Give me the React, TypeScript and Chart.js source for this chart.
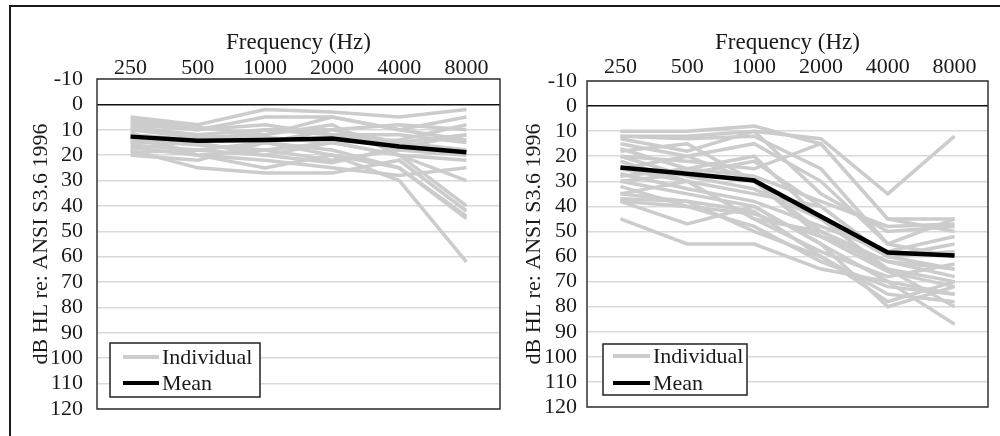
import React, { useEffect, useRef } from "react";
import { Chart, registerables } from "chart.js";

Chart.register(...registerables);

// ---------- data ----------
const FREQUENCIES = ["250", "500", "1000", "2000", "4000", "8000"];
const Y_MIN = -10;
const Y_MAX = 120;
const Y_STEP = 10;

const X_TITLE = "Frequency (Hz)";
const Y_TITLE = "dB HL re: ANSI S3.6 1996";
const LEGEND_INDIVIDUAL = "Individual";
const LEGEND_MEAN = "Mean";

// Left panel: individual thresholds (dB HL) at each frequency
const LEFT_INDIVIDUALS: number[][] = [
  [5, 8, 2, 3, 5, 2],
  [8, 10, 5, 5, 10, 5],
  [10, 12, 15, 10, 8, 10],
  [12, 15, 10, 12, 15, 12],
  [15, 15, 20, 15, 20, 30],
  [18, 25, 27, 27, 22, 42],
  [20, 22, 15, 20, 30, 62],
  [10, 13, 12, 8, 20, 40],
  [13, 20, 25, 20, 25, 45],
  [7, 10, 8, 12, 12, 15],
  [16, 18, 15, 18, 25, 44],
  [14, 16, 18, 22, 18, 20],
  [12, 14, 13, 15, 14, 8],
  [17, 20, 22, 25, 28, 25],
  [9, 12, 10, 10, 15, 18],
  [11, 20, 18, 15, 20, 22],
  [19, 18, 20, 23, 17, 12],
  [6, 9, 12, 5, 10, 14],
];
const LEFT_MEAN = [12.7, 14.3, 14, 13.4, 16.6, 18.9];

// Right panel: individual thresholds (dB HL) at each frequency
const RIGHT_INDIVIDUALS: number[][] = [
  [10, 10, 8, 15, 45, 50],
  [12, 12, 10, 13, 35, 12],
  [15, 20, 15, 30, 55, 60],
  [20, 22, 25, 15, 45, 45],
  [25, 30, 35, 40, 60, 65],
  [28, 25, 20, 45, 65, 70],
  [30, 35, 40, 55, 70, 75],
  [35, 30, 45, 50, 65, 80],
  [37, 38, 42, 60, 75, 78],
  [45, 55, 55, 65, 70, 87],
  [38, 47, 40, 55, 80, 72],
  [20, 28, 33, 45, 60, 55],
  [13, 18, 10, 35, 50, 48],
  [18, 15, 30, 50, 62, 68],
  [32, 40, 48, 62, 72, 75],
  [27, 33, 38, 48, 58, 52],
  [22, 30, 45, 58, 68, 63],
  [12, 13, 12, 25, 55, 45],
  [35, 38, 50, 60, 78, 70],
  [30, 27, 22, 40, 60, 58],
  [25, 20, 30, 52, 66, 72],
  [17, 25, 28, 38, 48, 47],
  [38, 40, 43, 52, 62, 65],
];
const RIGHT_MEAN = [24.5, 27, 29.7, 44, 58.4, 59.6];

// ---------- styles ----------
const INDIVIDUAL_COLOR = "#cccccc";
const MEAN_COLOR = "#000000";
const GRID_COLOR = "#d9d9d9";
const FRAME_COLOR = "#333333";
const TEXT_COLOR = "#1a1a1a";
const FONT_FAMILY = "'Liberation Serif', 'Times New Roman', serif";
const TICK_SIZE = 22;
const TITLE_SIZE = 23;

type Geom = {
  canvasX: number;
  width: number;
  height: number;
  padRight: number;
  padBottom: number;
  xAxisH: number;
  yAxisW: number;
  xTickPad: number;
  yTickPad: number;
  xTitlePad: number;
  yTitlePad: number;
  legX: number;
  legYFromBottom: number;
  legW: number;
  legH: number;
  legLineX0: number;
  legLineX1: number;
  legTextX: number;
  legRow1: number;
  legRow2: number;
};

const LEFT_GEOM: Geom = {
  canvasX: 0,
  width: 505,
  height: 436,
  padRight: 5,
  padBottom: 27,
  xAxisH: 79,
  yAxisW: 97,
  xTickPad: 0,
  yTickPad: 14,
  xTitlePad: 31,
  yTitlePad: 30,
  legX: 13,
  legYFromBottom: 66,
  legW: 150,
  legH: 54,
  legLineX0: 13,
  legLineX1: 49,
  legTextX: 52,
  legRow1: 14,
  legRow2: 40,
};

const RIGHT_GEOM: Geom = {
  canvasX: 500,
  width: 500,
  height: 436,
  padRight: 12,
  padBottom: 29,
  xAxisH: 81,
  yAxisW: 87,
  xTickPad: 3,
  yTickPad: 10,
  xTitlePad: 31,
  yTitlePad: 23,
  legX: 16,
  legYFromBottom: 63,
  legW: 144,
  legH: 51,
  legLineX0: 10,
  legLineX1: 47,
  legTextX: 50,
  legRow1: 12,
  legRow2: 39,
};

function makeChart(canvas: HTMLCanvasElement, individuals: number[][], mean: number[], g: Geom) {
  const framePlugin = {
    id: "frameAndLegend",
    afterDatasetsDraw(chart: any) {
      const { ctx, chartArea } = chart;
      const { left, top, right, bottom } = chartArea;
      ctx.save();
      // plot frame
      ctx.strokeStyle = FRAME_COLOR;
      ctx.lineWidth = 1.5;
      ctx.strokeRect(left, top, right - left, bottom - top);
      // legend inside plot area
      const bx = left + g.legX;
      const by = bottom - g.legYFromBottom;
      ctx.fillStyle = "#ffffff";
      ctx.fillRect(bx, by, g.legW, g.legH);
      ctx.strokeStyle = "#222222";
      ctx.lineWidth = 1.5;
      ctx.strokeRect(bx, by, g.legW, g.legH);
      const rows = [
        { y: by + g.legRow1, color: INDIVIDUAL_COLOR, w: 4, text: LEGEND_INDIVIDUAL },
        { y: by + g.legRow2, color: MEAN_COLOR, w: 4, text: LEGEND_MEAN },
      ];
      ctx.font = `${TICK_SIZE}px ${FONT_FAMILY}`;
      ctx.textBaseline = "middle";
      ctx.textAlign = "left";
      for (const r of rows) {
        ctx.strokeStyle = r.color;
        ctx.lineWidth = r.w;
        ctx.beginPath();
        ctx.moveTo(bx + g.legLineX0, r.y);
        ctx.lineTo(bx + g.legLineX1, r.y);
        ctx.stroke();
        ctx.fillStyle = TEXT_COLOR;
        ctx.fillText(r.text, bx + g.legTextX, r.y + 1);
      }
      ctx.restore();
    },
  };

  const datasets: any[] = individuals.map((d) => ({
    label: LEGEND_INDIVIDUAL,
    data: d,
    borderColor: INDIVIDUAL_COLOR,
    borderWidth: 3.5,
    pointRadius: 0,
    fill: false,
    tension: 0,
    order: 1,
  }));
  datasets.push({
    label: LEGEND_MEAN,
    data: mean,
    borderColor: MEAN_COLOR,
    borderWidth: 4.5,
    pointRadius: 0,
    fill: false,
    tension: 0,
    order: 0,
  });

  return new Chart(canvas, {
    type: "line",
    data: { labels: FREQUENCIES, datasets },
    plugins: [framePlugin],
    options: {
      responsive: false,
      animation: false,
      devicePixelRatio: 1,
      layout: { padding: { left: 0, top: 0, right: g.padRight, bottom: g.padBottom } },
      plugins: {
        legend: { display: false },
        tooltip: { enabled: false },
      },
      scales: {
        x: {
          type: "category",
          position: "top",
          offset: true,
          grid: { display: false, drawTicks: false },
          border: { display: false },
          ticks: {
            color: TEXT_COLOR,
            padding: g.xTickPad,
            maxRotation: 0,
            autoSkip: false,
            font: { family: FONT_FAMILY, size: TICK_SIZE, lineHeight: 1 },
          },
          title: {
            display: true,
            text: X_TITLE,
            color: TEXT_COLOR,
            padding: { top: g.xTitlePad, bottom: 0 },
            font: { family: FONT_FAMILY, size: TITLE_SIZE, lineHeight: 1 },
          },
          afterFit: (scale: any) => {
            scale.height = g.xAxisH;
          },
        },
        y: {
          type: "linear",
          reverse: true,
          min: Y_MIN,
          max: Y_MAX,
          grid: {
            drawTicks: false,
            lineWidth: 1.5,
            color: (c: any) => (c.tick && c.tick.value === 0 ? "#111111" : GRID_COLOR),
          },
          border: { display: false },
          ticks: {
            stepSize: Y_STEP,
            color: TEXT_COLOR,
            padding: g.yTickPad,
            font: { family: FONT_FAMILY, size: TICK_SIZE, lineHeight: 1 },
          },
          title: {
            display: true,
            text: Y_TITLE,
            color: TEXT_COLOR,
            padding: { top: g.yTitlePad, bottom: 0 },
            font: { family: FONT_FAMILY, size: TICK_SIZE, lineHeight: 1 },
          },
          afterFit: (scale: any) => {
            scale.width = g.yAxisW;
          },
        },
      },
    },
  } as any);
}

function Panel({ individuals, mean, geom }: { individuals: number[][]; mean: number[]; geom: Geom }) {
  const ref = useRef<HTMLCanvasElement>(null);
  useEffect(() => {
    if (!ref.current) return;
    const chart = makeChart(ref.current, individuals, mean, geom);
    return () => chart.destroy();
  }, [individuals, mean, geom]);
  return (
    <canvas
      ref={ref}
      width={geom.width}
      height={geom.height}
      style={{
        position: "absolute",
        left: geom.canvasX,
        top: 0,
        width: geom.width,
        height: geom.height,
      }}
    />
  );
}

export default function App() {
  return (
    <div
      style={{
        position: "fixed",
        left: 0,
        top: 0,
        width: 1000,
        height: 436,
        background: "#ffffff",
        overflow: "hidden",
      }}
    >
      <div
        style={{
          position: "absolute",
          left: 9,
          top: 5,
          width: 1000,
          height: 440,
          borderTop: "2px solid #1a1a1a",
          borderLeft: "2px solid #1a1a1a",
        }}
      />
      <Panel individuals={LEFT_INDIVIDUALS} mean={LEFT_MEAN} geom={LEFT_GEOM} />
      <Panel individuals={RIGHT_INDIVIDUALS} mean={RIGHT_MEAN} geom={RIGHT_GEOM} />
    </div>
  );
}
